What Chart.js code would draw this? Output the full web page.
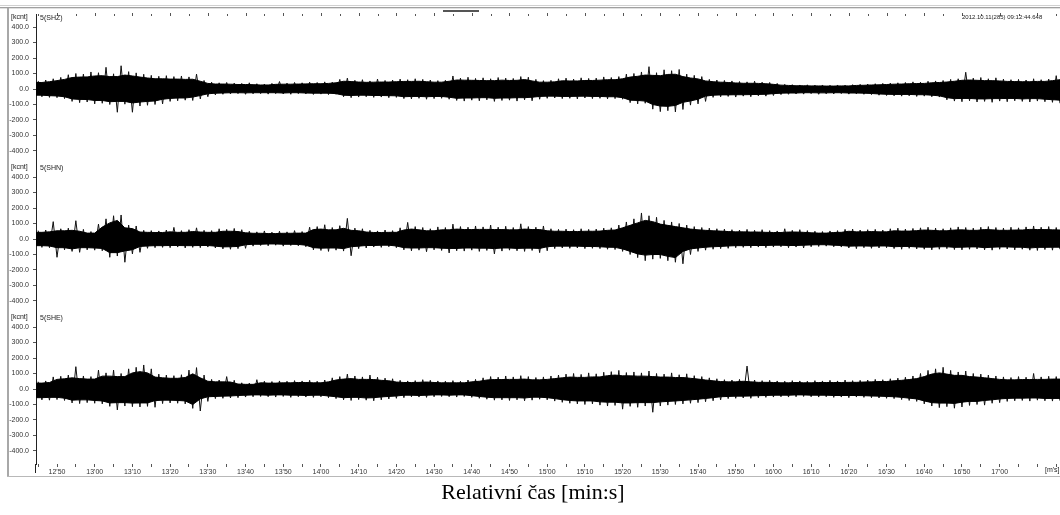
<!DOCTYPE html>
<html><head><meta charset="utf-8">
<script src="https://cdn.jsdelivr.net/npm/chart.js@4.4.1/dist/chart.umd.min.js"></script>
<style>html,body{margin:0;padding:0;background:#fff;}#wrap{position:relative;width:1060px;height:515px;}</style>
</head><body><div id="wrap"><canvas id="c" width="1060" height="515"></canvas></div>
<script>
// sample grid (relative time in seconds; 765 s = 12'45)
const T_START = 765, T_STEP = 2;     // swing peaks
const CORE_START = 764;              // solid core band, every 2 s
const channels = ['5(SHZ)', '5(SHN)', '5(SHE)'];
const unitY = '[kcnt]';
const unitX = "[m's]";
const dateLabel = '2012.10.11(285) 09:12:44.648';
const xTitle = 'Relativní čas [min:s]';
const yTicks = [-400, -300, -200, -100, 0, 100, 200, 300, 400];
const xTicksFrom = 765, xTicksTo = 1035, xTickStep = 5;

// peak swing (max / min) of each channel every 2 s, in kcnt
const shzMax = [52,58,66,75,92,100,96,110,105,140,
  98,150,112,104,95,88,82,86,80,84,
  78,96,55,44,40,42,38,36,40,34,
  32,36,48,38,42,40,44,42,46,44,
  62,70,56,60,52,64,55,58,64,60,
  66,62,58,54,56,84,70,76,68,72,
  66,74,70,68,80,76,62,54,56,66,
  70,64,72,68,70,78,74,80,96,100,
  110,144,105,124,118,126,96,88,80,62,
  58,55,52,48,46,50,44,42,36,30,
  28,26,27,25,26,24,26,25,28,30,
  32,34,36,38,40,42,46,44,50,52,
  55,62,66,108,70,74,66,72,64,60,
  62,58,66,60,64,86];
const shzMin = [-50,-54,-56,-62,-80,-88,-84,-96,-92,-100,
  -150,-98,-150,-110,-105,-100,-96,-80,-76,-72,
  -74,-64,-50,-38,-34,-32,-30,-34,-31,-30,
  -33,-30,-32,-34,-30,-32,-35,-33,-36,-34,
  -50,-56,-52,-50,-54,-52,-56,-54,-62,-64,
  -60,-66,-62,-60,-66,-74,-78,-72,-76,-70,
  -80,-74,-72,-78,-70,-76,-66,-60,-58,-62,
  -60,-64,-58,-62,-60,-64,-62,-66,-88,-96,
  -92,-130,-146,-140,-148,-132,-104,-96,-80,-54,
  -50,-48,-52,-46,-50,-44,-46,-42,-36,-34,
  -32,-33,-30,-34,-31,-32,-30,-33,-32,-34,
  -36,-40,-42,-44,-46,-44,-48,-46,-50,-52,
  -70,-78,-82,-76,-84,-80,-86,-78,-82,-76,
  -80,-84,-78,-82,-86,-92];
const shnMax = [54,58,112,66,70,118,62,48,96,130,
  150,155,90,84,56,54,52,58,75,54,
  60,72,56,54,66,62,68,60,50,46,
  52,44,50,46,54,48,76,80,92,74,
  86,133,70,66,56,52,58,54,72,107,
  80,74,66,78,74,96,80,76,84,78,
  90,76,82,74,98,80,76,84,66,62,
  64,60,66,62,64,70,72,90,110,130,
  168,150,140,120,110,100,90,80,74,70,
  66,64,60,58,62,56,60,54,52,66,
  56,60,54,50,48,52,54,62,64,58,
  60,62,58,66,70,64,68,72,76,70,
  66,72,78,74,70,76,80,74,70,76,
  72,78,84,76,80,74];
const shnMin = [-54,-56,-118,-70,-80,-86,-70,-72,-76,-118,
  -110,-150,-96,-86,-60,-56,-54,-56,-52,-58,
  -54,-56,-52,-58,-64,-66,-62,-60,-46,-42,
  -44,-40,-46,-42,-44,-50,-70,-74,-80,-72,
  -78,-108,-62,-58,-52,-54,-50,-56,-70,-76,
  -72,-82,-70,-74,-90,-76,-78,-72,-80,-74,
  -96,-78,-72,-76,-80,-74,-88,-76,-62,-58,
  -60,-58,-62,-60,-62,-66,-68,-80,-100,-120,
  -140,-130,-125,-140,-150,-160,-100,-80,-72,-66,
  -62,-60,-56,-54,-56,-52,-56,-52,-50,-56,
  -52,-58,-50,-48,-46,-50,-52,-58,-62,-56,
  -60,-58,-56,-62,-66,-60,-64,-66,-70,-66,
  -62,-68,-70,-66,-64,-70,-72,-66,-64,-70,
  -66,-72,-74,-68,-72,-66];
const sheMax = [47,52,78,82,90,144,84,80,122,104,
  122,100,130,140,155,130,96,90,86,92,
  122,138,90,62,58,80,56,40,38,60,
  50,48,52,50,54,52,56,50,58,72,
  80,96,84,78,90,76,70,66,56,52,
  54,60,56,52,50,54,50,58,62,72,
  80,76,84,78,86,80,74,78,84,90,
  96,100,94,104,98,108,112,120,106,110,
  104,116,100,96,104,92,98,86,80,72,
  66,60,58,62,148,58,54,56,52,50,
  54,52,50,54,52,56,52,58,54,56,
  58,62,60,66,70,76,84,100,120,130,
  140,120,110,116,100,96,90,84,78,74,
  80,76,100,78,82,80];
const sheMin = [-70,-72,-68,-74,-90,-94,-88,-92,-96,-112,
  -135,-110,-114,-116,-112,-118,-94,-90,-92,-96,
  -125,-142,-80,-62,-60,-58,-56,-52,-50,-48,
  -50,-52,-48,-54,-50,-52,-54,-50,-56,-62,
  -70,-74,-68,-72,-76,-70,-64,-60,-56,-50,
  -52,-54,-50,-48,-50,-52,-48,-54,-60,-66,
  -72,-70,-74,-70,-76,-72,-66,-70,-78,-86,
  -92,-96,-100,-96,-104,-110,-106,-130,-112,-118,
  -110,-150,-110,-104,-100,-96,-92,-88,-82,-76,
  -70,-62,-60,-58,-60,-56,-54,-52,-50,-52,
  -50,-48,-50,-52,-50,-54,-52,-56,-52,-54,
  -56,-58,-60,-62,-68,-74,-80,-96,-110,-120,
  -114,-124,-116,-106,-100,-104,-92,-88,-80,-76,
  -74,-78,-72,-76,-78,-76];

// dense (solid) part of each trace, upper / lower edge every 2 s from 764 s
const shzMaxCore = [42,42,47,54,62,74,77,78,84,86,
  80,80,90,84,77,71,66,66,64,64,
  62,63,50,36,32,32,31,29,29,28,
  26,26,30,31,31,32,33,34,34,36,
  40,50,48,45,43,44,45,45,47,49,
  49,50,47,44,44,50,58,57,56,55,
  54,54,57,55,56,61,52,44,44,46,
  53,52,52,55,55,57,60,60,66,77,
  82,90,88,86,94,95,80,71,65,52,
  47,44,42,39,37,37,36,34,30,25,
  23,21,21,20,20,19,19,20,20,23,
  24,26,27,29,31,32,34,35,36,40,
  42,45,50,56,58,56,54,54,52,49,
  48,47,47,49,49,54,60];
const shzMinCore = [-40,-40,-43,-45,-50,-64,-67,-68,-74,-74,
  -82,-80,-80,-90,-84,-80,-77,-66,-61,-58,
  -58,-52,-42,-31,-27,-26,-24,-24,-25,-24,
  -24,-24,-24,-26,-24,-24,-26,-27,-27,-27,
  -30,-40,-42,-40,-40,-42,-42,-43,-44,-50,
  -48,-48,-50,-48,-48,-53,-60,-58,-58,-56,
  -56,-60,-58,-58,-56,-56,-53,-48,-46,-46,
  -48,-48,-47,-46,-48,-48,-50,-50,-56,-72,
  -74,-78,-100,-110,-112,-106,-86,-77,-66,-46,
  -40,-38,-38,-37,-37,-36,-35,-34,-30,-27,
  -26,-26,-24,-24,-25,-25,-24,-24,-26,-26,
  -27,-29,-32,-34,-35,-35,-35,-37,-37,-40,
  -44,-56,-62,-61,-61,-64,-64,-62,-62,-61,
  -61,-64,-62,-62,-66,-69,-72];
const shnMaxCore = [43,43,46,53,53,56,50,38,38,77,
  104,120,72,67,45,43,42,42,46,43,
  43,48,45,43,43,50,50,48,40,37,
  37,35,35,37,37,38,38,61,64,59,
  59,69,56,53,45,42,42,43,43,58,
  64,59,53,53,59,59,64,61,61,62,
  62,61,61,59,59,64,61,61,53,50,
  50,48,48,50,50,51,56,58,72,88,
  104,120,112,96,88,80,72,64,59,56,
  53,51,48,46,46,45,45,43,42,42,
  45,45,43,40,38,38,42,43,50,46,
  46,48,46,46,53,51,51,54,58,56,
  53,53,58,59,56,56,61,59,56,56,
  58,58,62,61,61,59,58];
const shnMinCore = [-43,-43,-45,-56,-56,-64,-56,-56,-58,-61,
  -88,-88,-77,-69,-48,-45,-43,-43,-42,-42,
  -43,-43,-42,-42,-46,-51,-50,-48,-37,-34,
  -34,-32,-32,-34,-34,-35,-40,-56,-59,-58,
  -58,-62,-50,-46,-42,-42,-40,-40,-45,-56,
  -58,-58,-56,-56,-59,-61,-61,-58,-58,-59,
  -59,-62,-58,-58,-61,-59,-59,-61,-50,-46,
  -46,-46,-46,-48,-48,-50,-53,-54,-64,-80,
  -96,-104,-100,-100,-112,-120,-80,-64,-58,-53,
  -50,-48,-45,-43,-43,-42,-42,-42,-40,-40,
  -42,-42,-40,-38,-37,-37,-40,-42,-46,-45,
  -45,-46,-45,-45,-50,-48,-48,-51,-53,-53,
  -50,-50,-54,-53,-51,-51,-56,-53,-51,-51,
  -53,-53,-58,-54,-54,-53,-53];
const sheMaxCore = [38,38,42,62,66,72,67,64,64,83,
  83,80,80,104,112,104,77,72,69,69,
  74,98,72,50,46,46,45,32,30,30,
  40,38,38,40,40,42,42,40,40,46,
  58,64,67,62,62,61,56,53,45,42,
  42,43,45,42,40,40,40,40,46,50,
  58,61,61,62,62,64,59,59,62,67,
  72,77,75,75,78,78,86,90,85,85,
  83,83,80,77,77,74,74,69,64,58,
  53,48,46,46,50,46,43,43,42,40,
  40,42,40,40,42,42,42,42,43,43,
  45,46,48,48,53,56,61,67,80,96,
  104,96,88,88,80,77,72,67,62,59,
  59,61,61,62,62,64,64];
const sheMinCore = [-56,-56,-54,-54,-59,-72,-70,-70,-74,-77,
  -90,-88,-88,-91,-90,-90,-75,-72,-72,-74,
  -77,-100,-64,-50,-48,-46,-45,-42,-40,-38,
  -38,-40,-38,-38,-40,-40,-42,-40,-40,-45,
  -50,-56,-54,-54,-58,-56,-51,-48,-45,-40,
  -40,-42,-40,-38,-38,-40,-38,-38,-43,-48,
  -53,-56,-56,-56,-56,-58,-53,-53,-56,-62,
  -69,-74,-77,-77,-77,-83,-85,-85,-90,-90,
  -88,-88,-88,-83,-80,-77,-74,-70,-66,-61,
  -56,-50,-48,-46,-46,-45,-43,-42,-40,-40,
  -40,-38,-38,-40,-40,-40,-42,-42,-42,-42,
  -43,-45,-46,-48,-50,-54,-59,-64,-77,-88,
  -91,-91,-93,-85,-80,-80,-74,-70,-64,-61,
  -59,-59,-58,-58,-61,-61,-61];

const X_MIN = 764.43, X_MAX = 1036.0, Y_LIM = 484;

const series = [
  [shzMax, shzMaxCore, shzMin, shzMinCore],
  [shnMax, shnMaxCore, shnMin, shnMinCore],
  [sheMax, sheMaxCore, sheMin, sheMinCore]
];
const axisIds = ['yZ', 'yN', 'yE'];
const corePts = arr => arr.map((v, i) => ({x: CORE_START + i * T_STEP, y: v}));
// swing trace: max at T_START + 2i, min one second later
function swing(hi, lo) {
  const out = [];
  hi.forEach((v, i) => {
    out.push({x: T_START + i * T_STEP, y: v});
    out.push({x: T_START + i * T_STEP + 1, y: lo[i]});
  });
  return out;
}
const datasets = [];
series.forEach(([hi, hiC, lo, loC], k) => {
  const base = {yAxisID: axisIds[k], pointRadius: 0, tension: 0, borderColor: '#000', borderWidth: 1};
  datasets.push({...base, label: channels[k] + ' core+', data: corePts(hiC), fill: '+1', backgroundColor: '#000'});
  datasets.push({...base, label: channels[k] + ' core-', data: corePts(loC), fill: false});
  datasets.push({...base, label: channels[k], data: swing(hi, lo), fill: false, borderColor: '#111'});
});

const xTickVals = [];
for (let t = xTicksFrom; t <= xTicksTo; t += xTickStep) xTickVals.push(t);
const fmt = v => Math.floor(v / 60) + "'" + String(v % 60).padStart(2, '0');
const smallFont = {family: 'Liberation Sans', size: 7};

function yScale(weight) {
  return {
    type: 'linear', position: 'left', stack: 'ch', stackWeight: 1, weight,
    min: -Y_LIM, max: Y_LIM,
    afterBuildTicks: s => { s.ticks = yTicks.map(v => ({value: v})); },
    afterFit: s => { s.width = 36; },
    ticks: {font: smallFont, color: '#333', padding: 4, autoSkip: false, callback: v => Number(v).toFixed(1)},
    grid: {drawOnChartArea: false, drawTicks: true, tickLength: 3, color: '#555'},
    border: {display: true, color: '#222', width: 1}
  };
}

const deco = {
  id: 'deco',
  afterDraw(chart) {
    const ctx = chart.ctx, xs = chart.scales.x, a = chart.chartArea;
    ctx.save();
    // window frame
    ctx.fillStyle = '#d0d0d0'; ctx.fillRect(0, 5, 1060, 1);
    ctx.fillStyle = '#a0a0a0'; ctx.fillRect(0, 7, 1060, 1);
    ctx.fillStyle = '#e0e0e0'; ctx.fillRect(0, 8, 1060, 1);
    ctx.fillStyle = '#555'; ctx.fillRect(443, 10, 36, 2);
    ctx.fillStyle = '#a8a8a8'; ctx.fillRect(7, 8, 2, 469);
    ctx.fillStyle = '#b8b8b8'; ctx.fillRect(7, 476, 1053, 1);
    // axis line extension
    ctx.strokeStyle = '#222'; ctx.lineWidth = 1;
    ctx.beginPath(); ctx.moveTo(a.left - 0.5, a.bottom); ctx.lineTo(a.left - 0.5, 473); ctx.stroke();
    // top time ticks
    ctx.strokeStyle = '#555';
    xTickVals.forEach(t => {
      const x = Math.round(xs.getPixelForValue(t)) + 0.5;
      ctx.beginPath(); ctx.moveTo(x, t % 10 === 0 ? 13 : 14); ctx.lineTo(x, 16); ctx.stroke();
    });
    // texts
    ctx.fillStyle = '#222'; ctx.font = '7px "Liberation Sans"'; ctx.textBaseline = 'middle';
    axisIds.forEach((id, k) => {
      const top = chart.scales[id].top;
      ctx.textAlign = 'left';
      ctx.fillText(unitY, 11, top + 3);
      ctx.fillText(channels[k], 40, top + 4);
    });
    ctx.fillText(unitX, 1045, 470);
    ctx.font = '6px "Liberation Sans"';
    ctx.fillText(dateLabel, 962, 17);
    ctx.font = '22px "Liberation Serif"'; ctx.textAlign = 'center'; ctx.fillStyle = '#000';
    ctx.fillText(xTitle, 533, 493);
    ctx.restore();
  }
};

new Chart(document.getElementById('c'), {
  type: 'line',
  data: {datasets},
  options: {
    responsive: false, animation: false, devicePixelRatio: 1,
    layout: {padding: {top: 14, left: 0, right: 0, bottom: 0}},
    plugins: {legend: {display: false}, tooltip: {enabled: false}, title: {display: false}},
    scales: {
      x: {
        type: 'linear', position: 'bottom', min: X_MIN, max: X_MAX,
        afterBuildTicks: s => { s.ticks = xTickVals.map(v => ({value: v})); },
        afterFit: s => { s.height = 51; },
        ticks: {font: smallFont, color: '#333', padding: 1, maxRotation: 0, autoSkip: false,
          callback: v => (v % 10 === 0 && v !== 1030) ? fmt(v) : ''},
        grid: {drawOnChartArea: false, drawTicks: true, tickLength: 3, color: '#555'},
        border: {display: false}
      },
      yZ: yScale(3),
      yN: yScale(2),
      yE: yScale(1)
    }
  },
  plugins: [deco]
});
</script></body></html>
